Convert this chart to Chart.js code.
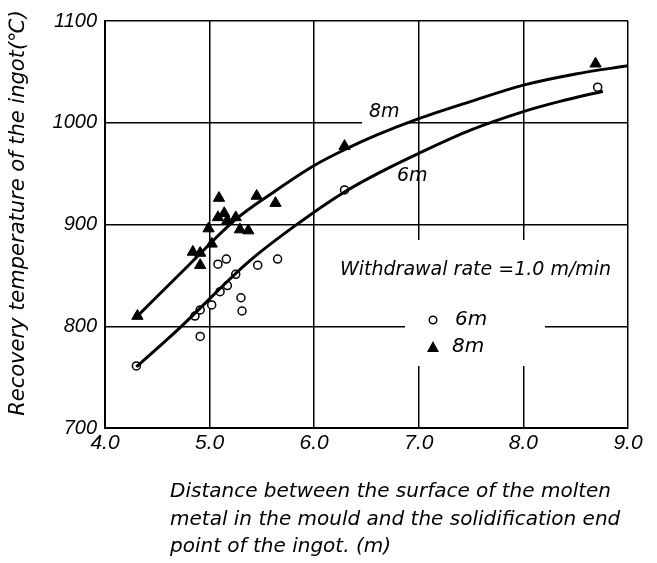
<!DOCTYPE html>
<html><head><meta charset="utf-8">
<script src="https://cdn.jsdelivr.net/npm/chart.js@4.4.0/dist/chart.umd.min.js"></script>
<style>html,body{margin:0;padding:0;background:#fff}#wrap{width:657px;height:563px;position:relative}</style>
</head><body><div id="wrap"><canvas id="c" width="657" height="563"></canvas></div>
<script>
// Measured data (6 m series: circles; 8 m series: triangles)
const circleX = [4.30, 4.91, 4.86, 4.91, 5.02, 5.10, 5.17, 5.25, 5.08, 5.16, 5.46, 5.65, 5.30, 5.31, 6.29, 8.71];
const circleY = [761, 790, 810, 816, 821, 834, 840, 851, 861, 866, 860, 866, 828, 815, 934, 1035];
const triX = [4.31, 4.84, 4.91, 4.91, 4.99, 5.02, 5.08, 5.09, 5.14, 5.17, 5.25, 5.29, 5.37, 5.45, 5.63, 6.29, 8.69];
const triY = [810, 873, 872, 860, 896, 881, 907, 926, 911, 904, 907, 895, 894, 928, 921, 977, 1058];
// Fitted curves
const curve8X = [4.30, 4.80, 5.25, 5.60, 6.00, 6.30, 6.60, 7.00, 7.50, 8.00, 8.50, 9.00];
const curve8Y = [809, 860, 905, 931, 958, 974, 988, 1004, 1021, 1037, 1048, 1056];
const curve6X = [4.30, 4.71, 5.38, 5.86, 6.29, 6.68, 7.00, 7.50, 8.00, 8.35, 8.76];
const curve6Y = [760, 798, 864, 902, 932, 954, 970, 993, 1011, 1021, 1031];
const xTickLabels = ['4.0', '5.0', '6.0', '7.0', '8.0', '9.0'];
const yTickLabels = ['700', '800', '900', '1000', '1100'];

const toPts = (xs, ys) => xs.map((x, i) => ({x: x, y: ys[i]}));
const FONT = 'DejaVu Sans';
const TFONT = 'Liberation Sans';

const decor = {
  id: 'decor',
  beforeDatasetsDraw(chart) {
    const ctx = chart.ctx;
    ctx.save();
    ctx.fillStyle = '#fff';
    // gaps in grid behind annotation texts
    ctx.fillRect(335, 240, 286, 58);
    ctx.fillRect(405, 298, 140, 68);
    ctx.fillRect(362, 100, 45, 24);
    ctx.restore();
  },
  afterDraw(chart) {
    const ctx = chart.ctx;
    ctx.save();
    ctx.fillStyle = '#000';
    ctx.textBaseline = 'middle';
    ctx.textAlign = 'left';
    ctx.font = 'oblique 19px "' + FONT + '"';
    ctx.fillText('8m', 369, 112);
    ctx.fillText('6m', 397, 176);
    ctx.fillText('Withdrawal rate =1.0 m/min', 340, 270, 275);
    ctx.font = 'oblique 20px "' + FONT + '"';
    ctx.fillText('6m', 455, 320);
    ctx.fillText('8m', 452, 347);
    // legend markers
    ctx.lineWidth = 1.5;
    ctx.strokeStyle = '#000';
    ctx.beginPath(); ctx.arc(433, 320, 3.8, 0, Math.PI * 2); ctx.stroke();
    ctx.beginPath(); ctx.moveTo(433, 341); ctx.lineTo(439, 352); ctx.lineTo(427, 352); ctx.closePath(); ctx.fill();
    // axis title (y)
    ctx.save();
    ctx.translate(19, 213);
    ctx.rotate(-Math.PI / 2);
    ctx.textAlign = 'center';
    ctx.font = 'oblique 21px "' + FONT + '"';
    ctx.fillText('Recovery temperature of the ingot(℃)', 0, 0, 410);
    ctx.restore();
    // axis title (x)
    ctx.font = 'oblique 20px "' + FONT + '"';
    ctx.textAlign = 'left';
    ctx.fillText('Distance between the surface of the molten', 170, 492, 452);
    ctx.fillText('metal in the mould and the solidification end', 170, 520, 467);
    ctx.fillText('point of the ingot. (m)', 170, 547, 242);
    ctx.restore();
  }
};

new Chart(document.getElementById('c'), {
  type: 'scatter',
  data: {
    datasets: [
      {label: '8m curve', data: toPts(curve8X, curve8Y), showLine: true, borderColor: '#000', borderWidth: 3, pointRadius: 0, cubicInterpolationMode: 'monotone', fill: false},
      {label: '6m curve', data: toPts(curve6X, curve6Y), showLine: true, borderColor: '#000', borderWidth: 3, pointRadius: 0, cubicInterpolationMode: 'monotone', fill: false},
      {label: '6m', data: toPts(circleX, circleY), pointStyle: 'circle', pointRadius: 4, backgroundColor: '#fff', borderColor: '#000', borderWidth: 1.5},
      {label: '8m', data: toPts(triX, triY), pointStyle: 'triangle', pointRadius: 6.5, backgroundColor: '#000', borderColor: '#000', borderWidth: 1}
    ]
  },
  options: {
    responsive: false,
    animation: false,
    devicePixelRatio: 1,
    layout: {padding: {left: 0, top: 21, right: 29, bottom: 0}},
    plugins: {legend: {display: false}, tooltip: {enabled: false}},
    scales: {
      x: {
        type: 'linear', min: 4, max: 9,
        afterFit(s) { s.height = 135; },
        afterBuildTicks(s) { s.ticks = xTickLabels.map(t => ({value: parseFloat(t)})); },
        ticks: {color: '#000', padding: 3, font: {family: TFONT, size: 21, style: 'italic'},
          callback: (v, i) => xTickLabels[i], maxRotation: 0},
        grid: {color: '#000', lineWidth: 1.5, drawTicks: false},
        border: {color: '#000', width: 2}
      },
      y: {
        type: 'linear', min: 700, max: 1100,
        afterFit(s) { s.width = 105; },
        afterBuildTicks(s) { s.ticks = yTickLabels.map(t => ({value: parseFloat(t)})); },
        ticks: {color: '#000', padding: 8, font: {family: TFONT, size: 20, style: 'italic'},
          callback: (v, i) => yTickLabels[i]},
        grid: {color: '#000', lineWidth: 1.5, drawTicks: false},
        border: {color: '#000', width: 2}
      }
    }
  },
  plugins: [decor]
});
</script></body></html>
